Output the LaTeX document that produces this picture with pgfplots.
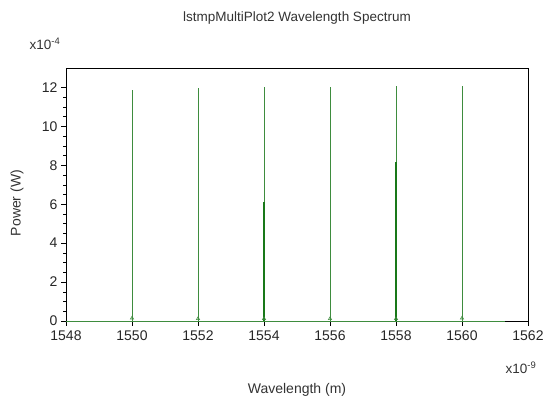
\documentclass[border=0pt]{standalone}
\usepackage{pgfplots}
\pgfplotsset{compat=1.18}
\usepackage{fontspec}
\setmainfont{Liberation Sans}
\definecolor{specgreen}{RGB}{62,140,62}
\definecolor{specdark}{RGB}{25,120,25}
\begin{document}
\begin{tikzpicture}
\useasboundingbox (0,0) rectangle (547pt,403pt);
\begin{axis}[
  at={(66pt,82pt)}, anchor=south west,
  scale only axis,
  width=462pt, height=253pt,
  xmin=1548, xmax=1562,
  ymin=0, ymax=13,
  xtick={1548,1550,...,1562},
  ytick={0,2,...,12},
  minor x tick num=1,
  minor y tick num=3,
  tick align=outside,
  major tick length=5pt,
  minor tick length=3pt,
  xtick pos=bottom, ytick pos=left,
  tick style={black, line width=0.5pt},
  axis line style={line width=0.5pt},
  /pgf/number format/assume math mode=true,
  /pgf/number format/1000 sep={},
  ticklabel style={font=\fontsize{14}{16}\selectfont, text=black!85},
  xticklabel style={yshift=-1pt},
  clip=false,
]
% baseline of the spectrum
\addplot[specgreen, line width=0.8pt] coordinates {(1548,0) (1561.3,0)};
% spectral lines
\addplot[ycomb, specgreen, line width=0.9pt, mark=none] coordinates {
  (1550,11.85) (1552,11.95) (1554,12.0) (1556,12.02) (1558,12.05) (1560,12.05)
};
% denser parts near 1554 and 1558
\addplot[ycomb, specdark, line width=1.8pt, mark=none] coordinates {
  (1554,6.1) (1558,8.15)
};
% small markers at the foot of each line
\addplot[only marks, mark=triangle, mark size=1.8pt, specgreen, line width=0.6pt] coordinates {
  (1550,0.15) (1552,0.12) (1554,0.12) (1556,0.12) (1558,0.12) (1560,0.15)
};
\end{axis}
\node[font=\fontsize{13.5}{16}\selectfont, text=black!80] at (297pt,385pt) {lstmpMultiPlot2 Wavelength Spectrum};
\node[font=\fontsize{13.5}{16}\selectfont, text=black!80] at (45pt,359pt) {x10\textsuperscript{-4}};
\node[font=\fontsize{13.5}{16}\selectfont, text=black!80] at (521pt,35pt) {x10\textsuperscript{-9}};
\node[font=\fontsize{14}{16}\selectfont, text=black!80] at (297pt,13pt) {Wavelength (m)};
\node[font=\fontsize{14}{16}\selectfont, text=black!80, rotate=90] at (17pt,200pt) {Power (W)};
\end{tikzpicture}
\end{document}
